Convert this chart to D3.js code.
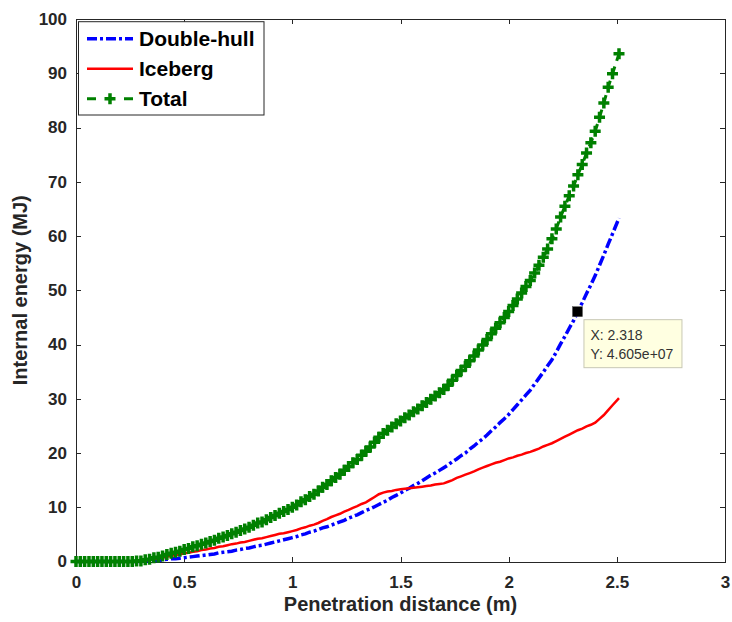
<!DOCTYPE html>
<html>
<head>
<meta charset="utf-8">
<title>Internal energy vs penetration distance</title>
<style>
body {
  margin: 0;
  background: #fff;
  font-family: "Liberation Sans", Arial, sans-serif;
}
.axis path,
.axis line {
  fill: none;
  stroke: #262626;
  shape-rendering: crispEdges;
}
.axis text {
  fill: #262626;
  font-size: 17px;
  font-weight: bold;
  font-family: "Liberation Sans", Arial, sans-serif;
}
.label {
  fill: #262626;
  font-size: 20px;
  font-weight: bold;
}
</style>
</head>
<body>
<script src="https://cdn.jsdelivr.net/npm/d3@7"></script>
<script>
// penetration distance (m)
var dist = [0,0.02,0.04,0.06,0.08,0.1,0.12,0.14,0.16,0.18,0.2,0.22,0.24,0.26,0.28,0.3,
  0.32,0.34,0.36,0.38,0.4,0.42,0.44,0.46,0.48,0.5,
  0.52,0.54,0.56,0.58,0.6,0.62,0.64,0.66,0.68,0.7,
  0.72,0.74,0.76,0.78,0.8,0.82,0.84,0.86,0.88,0.9,
  0.92,0.94,0.96,0.98,1,1.02,1.04,1.06,1.08,1.1,
  1.12,1.14,1.16,1.18,1.2,1.22,1.24,1.26,1.28,1.3,
  1.32,1.34,1.36,1.38,1.4,1.42,1.44,1.46,1.48,1.5,
  1.52,1.54,1.56,1.58,1.6,1.62,1.64,1.66,1.68,1.7,
  1.72,1.74,1.76,1.78,1.8,1.82,1.84,1.86,1.88,1.9,
  1.92,1.94,1.96,1.98,2,2.02,2.04,2.06,2.08,2.1,
  2.12,2.14,2.16,2.18,2.2,2.22,2.24,2.26,2.28,2.3,
  2.32,2.34,2.36,2.38,2.4,2.42,2.44,2.46,2.48,2.51];

// internal energy (MJ)
var doubleHull = [0,0,0,0,0,0,0,0,0,0,0,0,0,0,0,0,
  0.1,0.1,0.2,0.2,0.3,0.4,0.5,0.5,0.6,0.7,
  0.8,0.9,1.0,1.1,1.2,1.3,1.4,1.6,1.7,1.8,
  1.9,2.1,2.2,2.4,2.5,2.7,2.9,3.0,3.2,3.4,
  3.6,3.8,4.0,4.2,4.4,4.6,4.9,5.1,5.4,5.6,
  5.9,6.2,6.4,6.7,7.0,7.3,7.6,8.0,8.3,8.6,
  9.0,9.4,9.7,10.1,10.5,10.9,11.3,11.8,12.2,12.6,
  13.1,13.5,14.0,14.4,14.9,15.4,15.9,16.3,16.8,17.3,
  17.8,18.4,18.9,19.5,20.0,20.7,21.3,22.0,22.6,23.3,
  24.1,24.8,25.6,26.3,27.1,28.0,28.9,29.8,30.7,31.6,
  32.7,33.8,34.9,36.1,37.2,38.6,40.1,41.5,43.0,44.4,
  46.1,47.7,49.4,51.0,52.7,54.6,56.5,58.5,60.4,63.3];

var iceberg = [0,0,0,0,0,0,0,0,0,0,0,0,0,0,0.1,0.1,
  0.2,0.3,0.5,0.6,0.7,0.9,1.0,1.2,1.3,1.5,
  1.6,1.8,1.9,2.1,2.2,2.4,2.5,2.7,2.8,3.0,
  3.2,3.3,3.5,3.6,3.8,4.0,4.2,4.3,4.5,4.7,
  4.9,5.1,5.2,5.4,5.6,5.8,6.1,6.3,6.6,6.8,
  7.1,7.5,7.8,8.2,8.5,8.8,9.2,9.5,9.9,10.2,
  10.6,10.9,11.4,11.9,12.4,12.7,12.9,13.0,13.2,13.3,
  13.4,13.5,13.6,13.7,13.8,13.9,14.0,14.2,14.3,14.4,
  14.7,15.0,15.4,15.7,16.0,16.3,16.6,17.0,17.3,17.6,
  17.9,18.2,18.4,18.7,19.0,19.2,19.5,19.7,20.0,20.2,
  20.5,20.8,21.2,21.5,21.8,22.2,22.6,23.0,23.4,23.8,
  24.2,24.5,24.9,25.2,25.6,26.3,27.0,27.9,28.8,30.1];

var total = [0,0,0,0,0,0,0,0,0,0,0,0,0,0,0.1,0.1,
  0.3,0.4,0.7,0.8,1.0,1.3,1.5,1.7,1.9,2.2,
  2.4,2.7,2.9,3.2,3.4,3.7,3.9,4.3,4.5,4.8,
  5.1,5.4,5.7,6.0,6.3,6.7,7.1,7.3,7.7,8.1,
  8.5,8.9,9.2,9.6,10.0,10.4,11.0,11.4,12.0,12.4,
  13.0,13.7,14.2,14.9,15.5,16.1,16.8,17.5,18.2,18.8,
  19.6,20.3,21.1,22.0,22.9,23.6,24.2,24.8,25.4,25.9,
  26.5,27.0,27.6,28.1,28.7,29.3,29.9,30.5,31.1,31.7,
  32.5,33.4,34.3,35.2,36.0,37.0,37.9,39.0,39.9,40.9,
  42.0,43.0,44.0,45.0,46.1,47.2,48.4,49.5,50.7,51.8,
  53.2,54.6,56.1,57.6,59.5,61.3,63.5,65.5,67.4,69.2,
  71.3,73.2,75.3,77.2,79.3,81.9,84.5,87.4,89.9,93.6];

var seriesNames = ["Double-hull", "Iceberg", "Total"];
var xTicks = [0, 0.5, 1, 1.5, 2, 2.5, 3];
var yTicks = [0, 10, 20, 30, 40, 50, 60, 70, 80, 90, 100];

// data tip on the double-hull curve
var tipX = 2.318, tipY = 46.05;
var tipLines = ["X: 2.318", "Y: 4.605e+07"];

var margin = {top: 19, right: 7, bottom: 60.5, left: 76},
    width = 732 - margin.left - margin.right,
    height = 622 - margin.top - margin.bottom;

var x = d3.scaleLinear().domain([0, 3]).range([0, width]);
var y = d3.scaleLinear().domain([0, 100]).range([height, 0]);

var svg = d3.select("body").append("svg")
    .attr("width", 732)
    .attr("height", 622)
  .append("g")
    .attr("transform", "translate(" + margin.left + "," + margin.top + ")");

// axes, box style with inward ticks on all four sides
svg.append("g")
    .attr("class", "x axis")
    .attr("transform", "translate(0," + height + ")")
    .call(d3.axisBottom(x).tickValues(xTicks).tickSizeInner(-5).tickSizeOuter(0).tickPadding(14)
      .tickFormat(function(d) { return d; }));

svg.append("g")
    .attr("class", "x axis")
    .call(d3.axisTop(x).tickValues(xTicks).tickSizeInner(-5).tickSizeOuter(0).tickFormat(""));

svg.append("g")
    .attr("class", "y axis")
    .call(d3.axisLeft(y).tickValues(yTicks).tickSizeInner(-5).tickSizeOuter(0).tickPadding(9)
      .tickFormat(function(d) { return d; }));

svg.append("g")
    .attr("class", "y axis")
    .attr("transform", "translate(" + width + ",0)")
    .call(d3.axisRight(y).tickValues(yTicks).tickSizeInner(-5).tickSizeOuter(0).tickFormat(""));

svg.append("text")
    .attr("class", "label")
    .attr("x", width / 2)
    .attr("y", height + 42)
    .attr("dy", ".35em")
    .style("text-anchor", "middle")
    .text("Penetration distance (m)");

svg.append("text")
    .attr("class", "label")
    .attr("transform", "translate(" + (20 - margin.left) + "," + (height / 2) + ") rotate(-90)")
    .attr("dy", ".35em")
    .style("text-anchor", "middle")
    .text("Internal energy (MJ)");

function pts(vals) {
  return dist.map(function(d, i) { return [d, vals[i]]; });
}

var line = d3.line()
    .x(function(d) { return x(d[0]); })
    .y(function(d) { return y(d[1]); });

svg.append("path")
    .datum(pts(doubleHull))
    .attr("d", line)
    .style("fill", "none")
    .style("stroke", "#0000ff")
    .style("stroke-width", 3.5)
    .style("stroke-dasharray", "10,3,3,3");

svg.append("path")
    .datum(pts(iceberg))
    .attr("d", line)
    .style("fill", "none")
    .style("stroke", "#ff0000")
    .style("stroke-width", 2.5);

svg.append("path")
    .datum(pts(total))
    .attr("d", line)
    .style("fill", "none")
    .style("stroke", "#008000")
    .style("stroke-width", 3)
    .style("stroke-dasharray", "9,6");

var plus = "M-5.5,0H5.5M0,-5.5V5.5";

svg.selectAll(".plus")
    .data(pts(total))
  .enter().append("path")
    .attr("class", "plus")
    .attr("d", plus)
    .attr("transform", function(d) { return "translate(" + x(d[0]) + "," + y(d[1]) + ")"; })
    .style("fill", "none")
    .style("stroke", "#008000")
    .style("stroke-width", 3.5);

// legend
var legend = svg.append("g")
    .attr("transform", "translate(2.5,2.7)");

legend.append("rect")
    .attr("width", 185.5)
    .attr("height", 93.3)
    .style("fill", "#fff")
    .style("stroke", "#262626")
    .style("stroke-width", 1);

var legStyle = [
  {color: "#0000ff", width: 3.5, dash: "10,3,3,3"},
  {color: "#ff0000", width: 2.5, dash: null},
  {color: "#008000", width: 3, dash: "9,28"}
];

var item = legend.selectAll(".legend")
    .data(seriesNames)
  .enter().append("g")
    .attr("class", "legend")
    .attr("transform", function(d, i) { return "translate(0," + (17 + i * 30) + ")"; });

item.append("line")
    .attr("x1", 8.5)
    .attr("x2", 54.5)
    .style("stroke", function(d, i) { return legStyle[i].color; })
    .style("stroke-width", function(d, i) { return legStyle[i].width; })
    .style("stroke-dasharray", function(d, i) { return legStyle[i].dash; });

item.filter(function(d, i) { return i == 2; })
  .append("path")
    .attr("d", plus)
    .attr("transform", "translate(31.5,0)")
    .style("fill", "none")
    .style("stroke", "#008000")
    .style("stroke-width", 3.5);

item.append("text")
    .attr("class", "label")
    .attr("x", 60.5)
    .attr("dy", ".35em")
    .style("fill", "#000")
    .style("font-size", "21px")
    .text(function(d) { return d; });

// data tip
var tip = svg.append("g")
    .attr("transform", "translate(" + x(tipX) + "," + y(tipY) + ")");

tip.append("rect")
    .attr("x", 6.5)
    .attr("y", 8)
    .attr("width", 98)
    .attr("height", 48)
    .style("fill", "#ffffe1")
    .style("stroke", "#c8c8b4")
    .style("stroke-width", 1);

tip.selectAll(".tiptext")
    .data(tipLines)
  .enter().append("text")
    .attr("class", "tiptext")
    .attr("x", 13)
    .attr("y", function(d, i) { return 23 + i * 19; })
    .attr("dy", ".35em")
    .style("font-size", "14px")
    .style("fill", "#333")
    .text(function(d) { return d; });

tip.append("rect")
    .attr("x", -5)
    .attr("y", -5)
    .attr("width", 10)
    .attr("height", 10)
    .style("fill", "#000")
    .style("stroke", "#555")
    .style("stroke-width", 0.5);
</script>
</body>
</html>
